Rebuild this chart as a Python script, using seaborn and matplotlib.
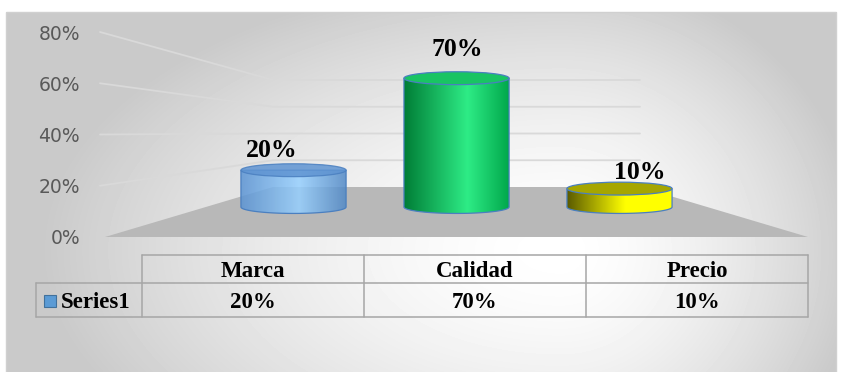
import numpy as np
import matplotlib
matplotlib.use("Agg")
import matplotlib.pyplot as plt
from matplotlib.patches import Ellipse, PathPatch, Polygon, Rectangle
from matplotlib.path import Path
from matplotlib.colors import LinearSegmentedColormap
from matplotlib.ticker import PercentFormatter
import seaborn as sns

# data
categories = ["Marca", "Calidad", "Precio"]
values = [0.20, 0.70, 0.10]
series_name = "Series1"
axis_ticks = [0.0, 0.2, 0.4, 0.6, 0.8]

W, H = 842, 372
sns.set_theme(style="white")
plt.rcParams["font.family"] = ["DejaVu Sans"]
plt.rcParams["text.color"] = "black"
serif = ["Liberation Serif", "DejaVu Serif"]

fig = plt.figure(figsize=(W / 100, H / 100), dpi=100)

# background axes in pixel coords (y down)
bg = fig.add_axes([0, 0, 1, 1])
bg.set_xlim(0, W)
bg.set_ylim(H, 0)
bg.axis("off")

yy, xx = np.mgrid[0:H, 0:W]
cx, cy = 560, 250
dx = (xx - cx) / np.where(xx < cx, 520, 300)
dy = (yy - cy) / 280
r = np.clip(np.sqrt(dx ** 2 + dy ** 2), 0, 1)
img = 1 - 0.21 * r ** 1.6
img[(xx < 6) | (xx > 836) | (yy < 12)] = 1.0
bg.imshow(img, extent=[0, W, H, 0], cmap="gray", vmin=0, vmax=1, aspect="auto", zorder=0)
bg.add_patch(Rectangle((6, 12), 830, 370, fill=False, edgecolor="#d0d0d0", lw=1, zorder=1))

# y tick axis (front edge of the 3D plot)
ta = fig.add_axes([100 / W, (H - 237) / H, 1 / W, 205 / H])
ta.set_ylim(0, 0.8)
ta.set_yticks(axis_ticks)
ta.yaxis.set_major_formatter(PercentFormatter(1.0, decimals=0))
ta.tick_params(axis="y", length=0, pad=14.4, labelsize=13.5, labelcolor="#595959")
ta.set_xticks([])
ta.patch.set_visible(False)
for s in ta.spines.values():
    s.set_visible(False)

# perspective gridlines + floor
fig.canvas.draw()
back0, back_scale = 187, 133.75
for v in axis_ticks[1:]:
    yl = H - ta.transData.transform((0, v))[1]
    yb = back0 - v * back_scale
    bg.plot([100, 273, 640], [yl, yb, yb], color="#d9d9d9", lw=1.3, zorder=2)
bg.add_patch(Polygon([(105, 237), (273, 187), (640, 187), (808, 237)],
                     closed=True, facecolor="#b8b8b8", edgecolor="none", zorder=3))

# cylinders
ax = fig.add_axes([212 / W, (H - 225.4) / H, 489 / W, 165.6 / H])
sns.barplot(x=categories, y=values, ax=ax, width=0.645, color="#5b9bd5")
ax.set_xlim(-0.5, 2.5)
ax.set_ylim(-0.1, 0.8)
ax.axis("off")
ax.patch.set_visible(False)

body_maps = [
    [(0, "#5a93d3"), (0.55, "#96d0ff"), (1, "#4f86c4")],
    [(0, "#007d36"), (0.6, "#2eec86"), (1, "#00a64a")],
    [(0, "#5a5a00"), (0.55, "#ffff00"), (1, "#ffff00")],
]
body_alpha = [0.85, 1.0, 1.0]
top_cols = ["#5f94d2", "#19c463", "#a6a600"]
edge = "#4a7fc0"
eh = 0.07
label_off = [(-21.5, 13), (1, 22), (20.5, 10)]

grad = np.linspace(0, 1, 256)[None, :]
t = np.linspace(np.pi, 2 * np.pi, 60)
for i, p in enumerate(ax.patches):
    x0, w, h = p.get_x(), p.get_width(), p.get_height()
    x1, xc = x0 + w, x0 + w / 2
    p.set_facecolor("none")
    p.set_linewidth(0)
    verts = [(x0, h), (x0, 0)] + list(zip(xc + w / 2 * np.cos(t), eh / 2 * np.sin(t))) + [(x1, 0), (x1, h), (x0, h)]
    body = PathPatch(Path(verts), facecolor="none", edgecolor=edge, lw=0.9, zorder=4)
    ax.add_patch(body)
    cm = LinearSegmentedColormap.from_list(f"c{i}", body_maps[i])
    im = ax.imshow(grad, extent=[x0, x1, -eh, h], aspect="auto", cmap=cm,
                   alpha=body_alpha[i], zorder=3)
    im.set_clip_path(body)
    ax.add_patch(Ellipse((xc, h), w, eh, facecolor=top_cols[i], edgecolor=edge,
                         lw=0.9, zorder=5, alpha=body_alpha[i]))
    ox, oy = label_off[i]
    ax.annotate(f"{values[i]:.0%}", (xc, h), xytext=(ox * 0.72, oy * 0.72),
                textcoords="offset points", ha="center", va="baseline", color="black",
                fontsize=18.5, fontweight="bold", family=serif, zorder=6)
ax.set_xlim(-0.5, 2.5)
ax.set_ylim(-0.1, 0.8)

# data table
line_c = "#a6a6a6"
c_left, c_right = 142, 808
edges = np.linspace(c_left, c_right, len(categories) + 1)
r_top, r_mid, r_bot = 255, 283, 317
bg.plot([c_left, c_right], [r_top, r_top], color=line_c, lw=1.1, zorder=4)
bg.plot([36, c_right], [r_mid, r_mid], color=line_c, lw=1.1, zorder=4)
bg.plot([36, c_right], [r_bot, r_bot], color=line_c, lw=1.1, zorder=4)
bg.plot([36, 36], [r_mid, r_bot], color=line_c, lw=1.1, zorder=4)
for e in edges:
    bg.plot([e, e], [r_top, r_bot], color=line_c, lw=1.1, zorder=4)
for i, (cat, v) in enumerate(zip(categories, values)):
    mx = (edges[i] + edges[i + 1]) / 2
    bg.text(mx, 277, cat, ha="center", va="baseline", fontsize=16.5, color="black",
            fontweight="bold", family=serif, zorder=5)
    bg.text(mx, 308, f"{v:.0%}", ha="center", va="baseline", fontsize=16.5, color="black",
            fontweight="bold", family=serif, zorder=5)
bg.add_patch(Rectangle((44, 295), 12, 12, facecolor="#5b9bd5", edgecolor="#41719c",
                       lw=0.8, zorder=5))
bg.text(61, 308, series_name, ha="left", va="baseline", fontsize=16.5, color="black",
        fontweight="bold", family=serif, zorder=5)

fig.savefig("out.png", dpi=100)
